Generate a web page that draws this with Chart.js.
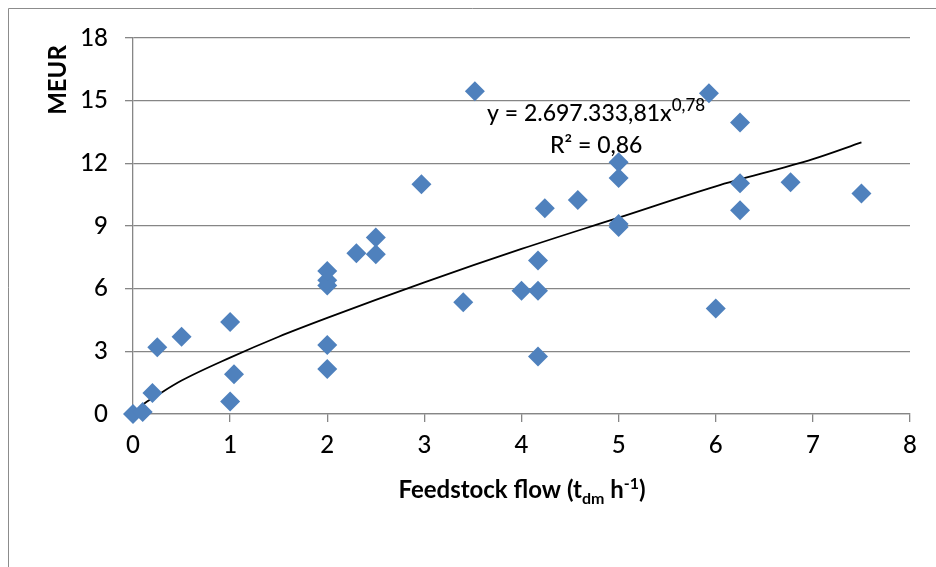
<!DOCTYPE html>
<html>
<head>
<meta charset="utf-8">
<script src="https://cdn.jsdelivr.net/npm/chart.js@4"></script>
<style>
  html, body { margin: 0; padding: 0; background: #fff; }
  #wrap { width: 936px; height: 567px; }
</style>
</head>
<body>
<div id="wrap"><canvas id="chartCost" width="936" height="567"></canvas></div>
<script>
// feedstock flow (t_dm/h) and cost (MEUR) of each plant
const flowX = [0, 0.1, 0.2, 0.25, 0.5, 1.0, 1.0, 1.04, 2.0, 2.0, 2.0, 2.0, 2.0, 2.3, 2.5, 2.5, 2.97, 3.4, 3.52,
  4.0, 4.17, 4.17, 4.17, 4.24, 4.58, 5.0, 5.0, 5.0, 5.0, 5.93, 6.0, 6.25, 6.25, 6.25, 6.77, 7.5];
const costY = [0, 0.1, 1.0, 3.2, 3.7, 4.4, 0.6, 1.9, 2.15, 3.3, 6.15, 6.4, 6.85, 7.7, 8.45, 7.65, 11.0, 5.35, 15.45,
  5.9, 5.9, 2.75, 7.35, 9.85, 10.25, 12.05, 11.3, 9.1, 8.95, 15.35, 5.05, 13.95, 11.05, 9.75, 11.1, 10.55];

// trendline
const trendX = [0, 0.1, 0.25, 0.5, 1, 1.5, 2, 3, 4, 5, 6, 7, 7.5];
const trendY = [0, 0.45, 0.9, 1.6, 2.7, 3.7, 4.6, 6.3, 7.9, 9.4, 10.9, 12.2, 13.0];

const xTicks = [0, 1, 2, 3, 4, 5, 6, 7, 8];
const yTicks = [0, 3, 6, 9, 12, 15, 18];

const eqMain = "y = 2.697.333,81x";
const eqExp = "0,78";
const eqR2 = "R² = 0,86";
const yTitle = "MEUR";

const FONT = "Lato, 'Open Sans', sans-serif";
const GRID = "#868686";

const textPlugin = {
  id: "texts",
  beforeDraw(chart) {
    const ctx = chart.ctx;
    ctx.save();
    ctx.fillStyle = "#fff";
    ctx.fillRect(0, 0, chart.width, chart.height);
    ctx.strokeStyle = "#8c8c8c";
    ctx.lineWidth = 1;
    ctx.beginPath();
    ctx.moveTo(8.5, chart.height);
    ctx.lineTo(8.5, 8.5);
    ctx.lineTo(chart.width, 8.5);
    ctx.stroke();
    ctx.restore();
  },
  afterDraw(chart) {
    const ctx = chart.ctx;
    ctx.save();
    ctx.fillStyle = "#000";
    ctx.textBaseline = "alphabetic";

    // y title
    ctx.font = "bold 24px " + FONT;
    ctx.translate(66, 80);
    ctx.rotate(-Math.PI / 2);
    ctx.textAlign = "center";
    ctx.fillText(yTitle, 0, 0);
    ctx.setTransform(1, 0, 0, 1, 0, 0);

    // x title with sub/superscripts
    const parts = [
      ["Feedstock flow (t", "bold 24px", 0],
      ["dm", "bold 16px", 6],
      [" h", "bold 24px", 0],
      ["-1", "bold 16px", -9],
      [")", "bold 24px", 0]
    ];
    ctx.textAlign = "left";
    let total = 0;
    parts.forEach(p => { ctx.font = p[1] + " " + FONT; total += ctx.measureText(p[0]).width; });
    let x = 522 - total / 2;
    parts.forEach(p => {
      ctx.font = p[1] + " " + FONT;
      ctx.fillText(p[0], x, 498 + p[2]);
      x += ctx.measureText(p[0]).width;
    });

    // equation
    ctx.font = "500 23px " + FONT;
    ctx.fillText(eqMain, 487, 121);
    const w = ctx.measureText(eqMain).width;
    ctx.font = "500 17px " + FONT;
    ctx.fillText(eqExp, 487 + w, 111);
    ctx.font = "500 23px " + FONT;
    ctx.fillText(eqR2, 550, 153);
    ctx.restore();
  }
};

new Chart(document.getElementById("chartCost"), {
  type: "scatter",
  data: {
    datasets: [{
      label: "Plants",
      data: flowX.map((v, i) => ({ x: v, y: costY[i] })),
      pointStyle: "rectRot",
      pointRadius: 10,
      pointHoverRadius: 10,
      backgroundColor: "#4F81BD",
      borderColor: "#4F81BD",
      borderWidth: 0,
      clip: false
    }, {
      label: "Trend",
      type: "line",
      data: trendX.map((v, i) => ({ x: v, y: trendY[i] })),
      borderColor: "#000",
      borderWidth: 1.8,
      pointRadius: 0,
      cubicInterpolationMode: "monotone",
      fill: false
    }]
  },
  options: {
    responsive: false,
    animation: false,
    layout: { padding: { top: 38, right: 26, left: 0, bottom: 0 } },
    plugins: { legend: { display: false }, tooltip: { enabled: false } },
    scales: {
      x: {
        type: "linear",
        min: 0, max: 8,
        afterBuildTicks: s => { s.ticks = xTicks.map(v => ({ value: v })); },
        afterFit: s => { s.height = 153; },
        grid: { drawOnChartArea: false, drawTicks: true, tickLength: 8, color: GRID, lineWidth: 1.3 },
        border: { color: GRID, width: 1.3 },
        ticks: { color: "#000", font: { family: FONT, size: 24, weight: "500" }, padding: 9 }
      },
      y: {
        min: 0, max: 18,
        afterBuildTicks: s => { s.ticks = yTicks.map(v => ({ value: v })); },
        afterFit: s => { s.width = 133; },
        grid: { color: GRID, lineWidth: 1.3, tickLength: 8 },
        border: { color: GRID, width: 1.3 },
        ticks: { color: "#000", font: { family: FONT, size: 24, weight: "500" }, padding: 17 }
      }
    }
  },
  plugins: [textPlugin]
});
</script>
</body>
</html>
